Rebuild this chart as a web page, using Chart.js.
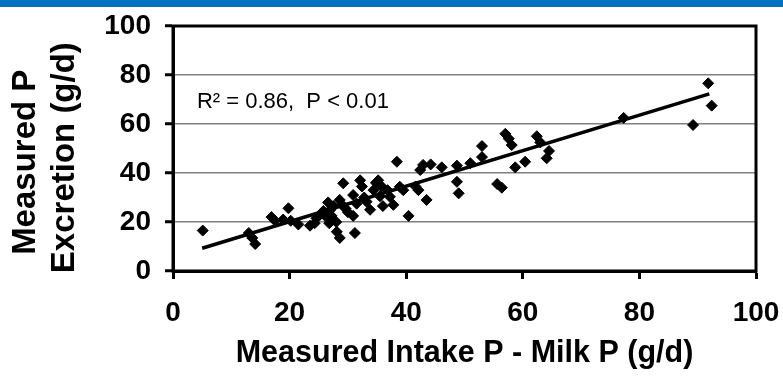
<!DOCTYPE html>
<html><head><meta charset="utf-8">
<script src="https://cdn.jsdelivr.net/npm/chart.js@4.4.1/dist/chart.umd.min.js"></script>
<style>
html,body{margin:0;padding:0;background:#fff;}
#wrap{position:relative;width:783px;height:385px;overflow:hidden;background:#fff;}
#bar{position:absolute;left:0;top:0;width:783px;height:7px;background:#0070C0;}
canvas{position:absolute;left:0;top:0;}
</style></head><body>
<div id="wrap"><div id="bar"></div><canvas id="c" width="783" height="385"></canvas></div>
<script>
// Measured intake P - milk P (g/d)
const intakeMinusMilkP = [5.1,13.0,13.6,14.1,16.9,17.5,18.9,19.8,21.5,23.5,24.3,24.6,25.8,26.3,26.6,27.0,27.2,27.5,28.0,28.1,28.6,28.6,29.0,29.2,30.0,30.9,31.2,30.9,32.1,32.4,32.8,33.2,33.8,34.4,35.2,35.8,35.5,36.0,36.8,37.2,37.8,38.4,38.9,40.4,42.1,42.4,42.9,43.5,46.1,48.7,48.7,49.0,51.0,53.0,53.0,55.6,56.4,57.0,57.6,58.1,58.7,60.4,62.4,63.0,64.5,64.1,77.3,89.2,91.8,92.4,25.2,26.8,29.6,31.5,34.8,39.5,41.6,44.2,20.2];
// Measured P excretion (g/d)
const excretionP = [16.5,15.5,13.5,11.0,22.0,20.5,21.0,25.6,19.0,18.5,19.5,21.5,24.5,22.0,28.0,25.0,22.5,26.5,20.0,16.0,13.5,29.0,27.0,35.8,24.0,22.5,15.5,31.0,37.0,34.5,30.0,28.3,25.0,33.0,37.0,34.5,30.5,26.5,33.0,30.3,27.0,44.6,34.4,22.5,33.0,41.2,43.3,29.0,42.3,43.0,36.4,31.7,44.0,51.0,46.5,35.5,34.0,56.0,54.0,51.4,42.3,44.6,55.0,52.5,49.0,46.0,62.5,59.6,76.6,67.5,23.0,19.5,25.5,27.5,36.0,33.0,34.5,43.5,20.5];
// Regression line end points
const fitX = [5, 92];
const fitY = [9.3, 72.3];
const xTickValues = [0, 20, 40, 60, 80, 100];
const yTickValues = [0, 20, 40, 60, 80, 100];
const xTitle = 'Measured Intake P - Milk P (g/d)';
const yTitle = ['Measured P   ', 'Excretion (g/d)  '];
const statText = 'R² = 0.86,  P < 0.01';
const statPos = [4.1, 69];

const FONT = "'Liberation Sans', Arial, sans-serif";

const scatterData = intakeMinusMilkP.map((x, i) => ({x: x, y: excretionP[i]}));
const fitData = fitX.map((x, i) => ({x: x, y: fitY[i]}));

const boxPlugin = {
  id: 'box',
  afterDraw(chart) {
    const {ctx, chartArea: a, scales} = chart;
    ctx.save();
    ctx.strokeStyle = '#000';
    ctx.lineWidth = 3;
    ctx.strokeRect(a.left, a.top, a.right - a.left, a.bottom - a.top);
    ctx.fillStyle = '#000';
    ctx.font = "22px " + FONT;
    ctx.textBaseline = 'middle';
    ctx.textAlign = 'left';
    ctx.fillText(statText, scales.x.getPixelForValue(statPos[0]), scales.y.getPixelForValue(statPos[1]));
    ctx.restore();
  }
};

new Chart(document.getElementById('c'), {
  type: 'scatter',
  data: {
    datasets: [
      {
        label: 'Data',
        data: scatterData,
        pointStyle: 'rectRot',
        pointRadius: 5.5,
        pointBackgroundColor: '#000',
        pointBorderColor: '#000',
        pointBorderWidth: 1,
        order: 2
      },
      {
        label: 'Fit',
        type: 'line',
        data: fitData,
        borderColor: '#000',
        borderWidth: 3.5,
        pointRadius: 0,
        fill: false,
        order: 1
      }
    ]
  },
  options: {
    responsive: false,
    animation: false,
    devicePixelRatio: 1,
    layout: {padding: {top: 26, right: 27, left: 0, bottom: 0}},
    plugins: {legend: {display: false}, tooltip: {enabled: false}},
    scales: {
      x: {
        type: 'linear', min: 0, max: 100,
        afterBuildTicks: (s) => { s.ticks = xTickValues.map(v => ({value: v})); },
        afterFit: (s) => { s.height = 114; s.paddingLeft = 0; s.paddingRight = 0; },
        ticks: {color: '#000', font: {family: FONT, size: 28, weight: 'bold'}, padding: 17, maxRotation: 0},
        grid: {drawOnChartArea: false, drawTicks: true, tickLength: 8, tickColor: '#000', tickWidth: 3},
        border: {display: true, color: '#000', width: 3},
        title: {display: true, text: xTitle, color: '#000', font: {family: FONT, size: 30.5, weight: 'bold'}, padding: {top: 0, bottom: 13}}
      },
      y: {
        type: 'linear', min: 0, max: 100,
        afterBuildTicks: (s) => { s.ticks = yTickValues.map(v => ({value: v})); },
        afterFit: (s) => { s.width = 173; s.paddingTop = 0; s.paddingBottom = 0; },
        ticks: {color: '#000', font: {family: FONT, size: 28, weight: 'bold'}, padding: 14},
        grid: {drawOnChartArea: true, color: '#808080', lineWidth: 1.5, drawTicks: true, tickLength: 8, tickColor: '#000', tickWidth: 3},
        border: {display: true, color: '#000', width: 3},
        title: {display: true, text: yTitle, color: '#000', font: {family: FONT, size: 33, weight: 'bold', lineHeight: 1.18}, padding: {top: 6}}
      }
    }
  },
  plugins: [boxPlugin]
});
</script>
</body></html>
